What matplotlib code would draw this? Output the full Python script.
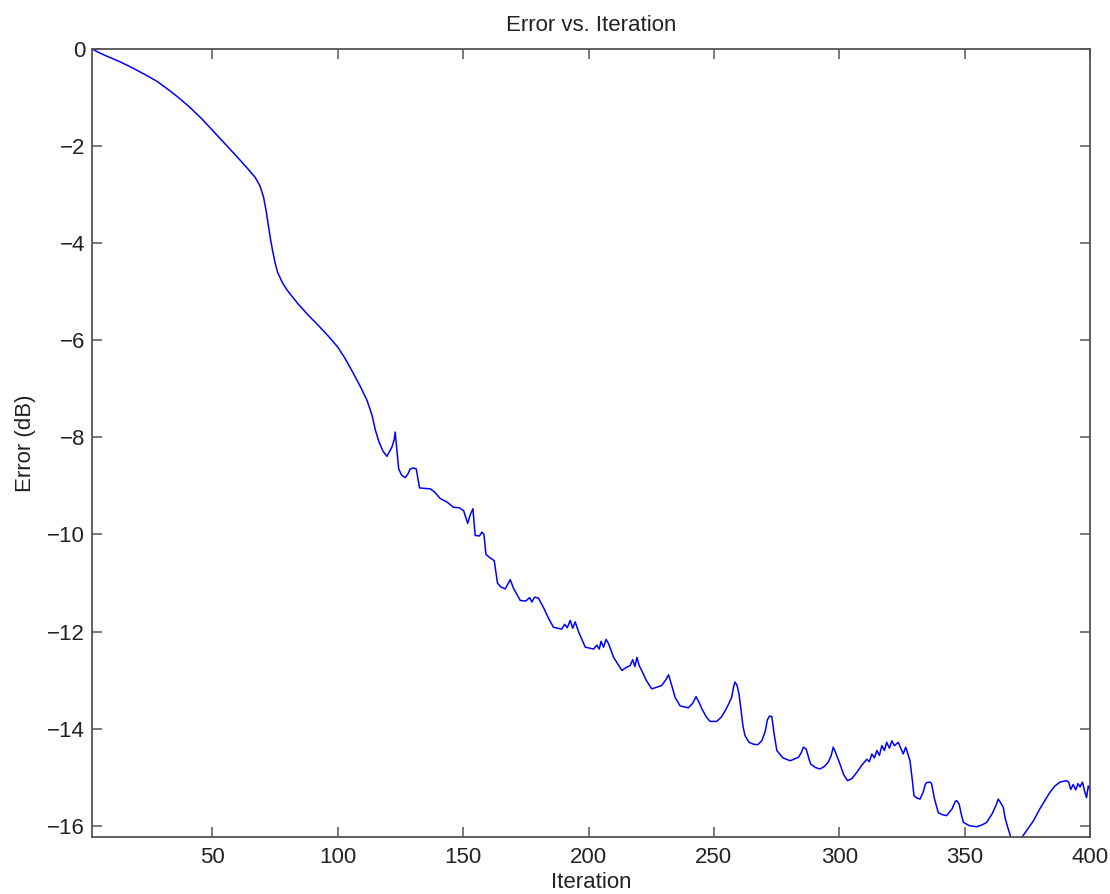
import matplotlib
matplotlib.use("Agg")
import matplotlib.pyplot as plt

# iteration / error (dB)
iteracje = [2, 5, 8, 13, 17, 20, 24, 28, 32, 36, 41, 46, 50.5, 55, 60, 64, 67, 69, 70.4, 71.5, 72.4, 73.2,
            74, 75, 76, 78, 80, 84, 88, 92, 96, 100, 103, 106, 109, 111.7, 113.7, 115, 116.5, 118, 119.6,
            121.6, 122.5, 122.9, 123.3, 123.6, 124.3, 125.5, 126.9, 128, 128.9, 130.2, 131.3, 132.6, 134.5,
            136.9, 138.5, 140.9, 143.5, 146.2, 148.5, 150.2, 151.8, 152.8, 153.9, 154.8, 156.5, 157.5, 158.3,
            159.1, 160.5, 162.4, 163.7, 165, 166.8, 168.8, 170, 172.8, 175, 176.5, 177.4, 178.5, 180, 182,
            184, 186, 189.3, 190.5, 191.5, 192.7, 193.7, 194.7, 196, 198.7, 202, 203.3, 204.3, 205, 206, 207,
            208, 210, 213.3, 215, 216.6, 217.6, 218.5, 219.3, 220.2, 221.2, 223, 225.2, 227, 229.2, 231,
            231.9, 233.2, 234.5, 236.5, 239.8, 241.5, 242.9, 244, 245.2, 247, 248.5, 251.1, 253, 254.5, 256,
            257.1, 257.8, 258.4, 259.2, 260, 260.8, 261.6, 262.4, 264, 265.8, 267.5, 269.1, 270.5, 271.3,
            272.2, 273.1, 274, 275.1, 277.5, 280.4, 283.7, 284.8, 285.7, 286.8, 287.8, 288.6, 290.5, 292.3,
            294, 295.6, 296.8, 297.6, 298.6, 299.5, 300.3, 301.8, 303.3, 305, 307, 309, 311, 312, 313, 314,
            315, 316, 317, 318, 318.9, 320, 321, 322, 323.5, 324.5, 325.5, 326.5, 328.2, 329, 329.8, 331,
            332.2, 333.5, 334.3, 334.8, 336.2, 336.8, 338, 339.5, 341, 342.8, 345, 346.2, 346.8, 347.8, 348.6,
            349.5, 352, 354.8, 357, 358.8, 361, 362.5, 363.4, 364.3, 365.4, 366.2, 367, 368.7, 370.5, 372,
            374, 377.4, 380, 382, 384, 386, 388, 390.6, 391.5, 392.3, 393.3, 394.3, 395.2, 396, 397, 397.8,
            398.6, 399.3, 400]
blad_db = [0, -0.08, -0.15, -0.26, -0.36, -0.44, -0.55, -0.67, -0.82, -0.98, -1.20, -1.45, -1.70, -1.95,
           -2.23, -2.46, -2.64, -2.82, -3.05, -3.35, -3.66, -3.92, -4.15, -4.40, -4.60, -4.82, -4.98, -5.24,
           -5.47, -5.68, -5.90, -6.14, -6.38, -6.66, -6.95, -7.24, -7.55, -7.85, -8.10, -8.28, -8.39,
           -8.20, -8.05, -7.89, -8.10, -8.27, -8.65, -8.78, -8.83, -8.75, -8.65, -8.63, -8.65, -9.04, -9.05,
           -9.06, -9.12, -9.26, -9.33, -9.44, -9.45, -9.51, -9.77, -9.60, -9.47, -10.02, -10.03, -9.95,
           -10.0, -10.41, -10.47, -10.54, -11.0, -11.08, -11.12, -10.93, -11.1, -11.36, -11.37, -11.30,
           -11.39, -11.29, -11.31, -11.50, -11.72, -11.91, -11.95, -11.85, -11.92, -11.77, -11.93, -11.80,
           -12.0, -12.32, -12.36, -12.28, -12.36, -12.20, -12.32, -12.16, -12.25, -12.53, -12.80, -12.74,
           -12.70, -12.58, -12.72, -12.53, -12.70, -12.80, -13.0, -13.18, -13.15, -13.11, -12.98, -12.89,
           -13.11, -13.35, -13.53, -13.57, -13.48, -13.34, -13.45, -13.59, -13.76, -13.85, -13.85, -13.76,
           -13.63, -13.48, -13.35, -13.15, -13.04, -13.10, -13.28, -13.60, -13.95, -14.14, -14.28, -14.32,
           -14.33, -14.25, -14.05, -13.82, -13.74, -13.75, -14.10, -14.45, -14.60, -14.66, -14.59, -14.50,
           -14.38, -14.42, -14.60, -14.73, -14.80, -14.83, -14.78, -14.69, -14.55, -14.38, -14.50, -14.62,
           -14.73, -14.95, -15.07, -15.03, -14.90, -14.75, -14.63, -14.68, -14.52, -14.60, -14.45, -14.55,
           -14.35, -14.45, -14.28, -14.40, -14.25, -14.35, -14.28, -14.40, -14.52, -14.38, -14.66, -15.0,
           -15.38, -15.43, -15.45, -15.30, -15.15, -15.11, -15.10, -15.13, -15.45, -15.73, -15.77, -15.79,
           -15.65, -15.50, -15.48, -15.55, -15.75, -15.93, -16.0, -16.02, -15.98, -15.93, -15.75, -15.58,
           -15.45, -15.52, -15.62, -15.85, -16.0, -16.28, -16.35, -16.30, -16.15, -15.90, -15.65, -15.48,
           -15.31, -15.18, -15.10, -15.07, -15.1, -15.25, -15.15, -15.26, -15.13, -15.20, -15.10, -15.28,
           -15.42, -15.18, -15.26]

x_ticki = [50, 100, 150, 200, 250, 300, 350, 400]
y_ticki = [-16, -14, -12, -10, -8, -6, -4, -2, 0]

plt.rcParams['font.family'] = ['Liberation Sans', 'DejaVu Sans']
plt.rcParams['axes.unicode_minus'] = True

fig = plt.figure(figsize=(11.1, 8.94), dpi=100)
ax = fig.add_axes([0.0829, 0.0638, 0.8991, 0.8814])

ax.plot(iteracje, blad_db, color='blue', linewidth=1.1)

ax.set_xlim(2, 400)
ax.set_ylim(-16.23, 0)
ax.set_xticks(x_ticki)
ax.set_yticks(y_ticki)

szary = '#555555'
for s in ax.spines.values():
    s.set_color(szary)
    s.set_linewidth(1.3)
ax.tick_params(direction='in', length=7, width=1.1, color=szary, top=True, right=True,
               labelsize=16, labelcolor='#222222', pad=5)
ax.tick_params(axis='x', pad=7)

ax.set_title("Error vs. Iteration", fontsize=16, color='#222222', pad=13)
ax.set_xlabel("Iteration", fontsize=16, color='#222222', labelpad=3)
ax.set_ylabel("Error (dB)", fontsize=16, color='#222222', labelpad=8)

fig.savefig("out.png", dpi=100)
